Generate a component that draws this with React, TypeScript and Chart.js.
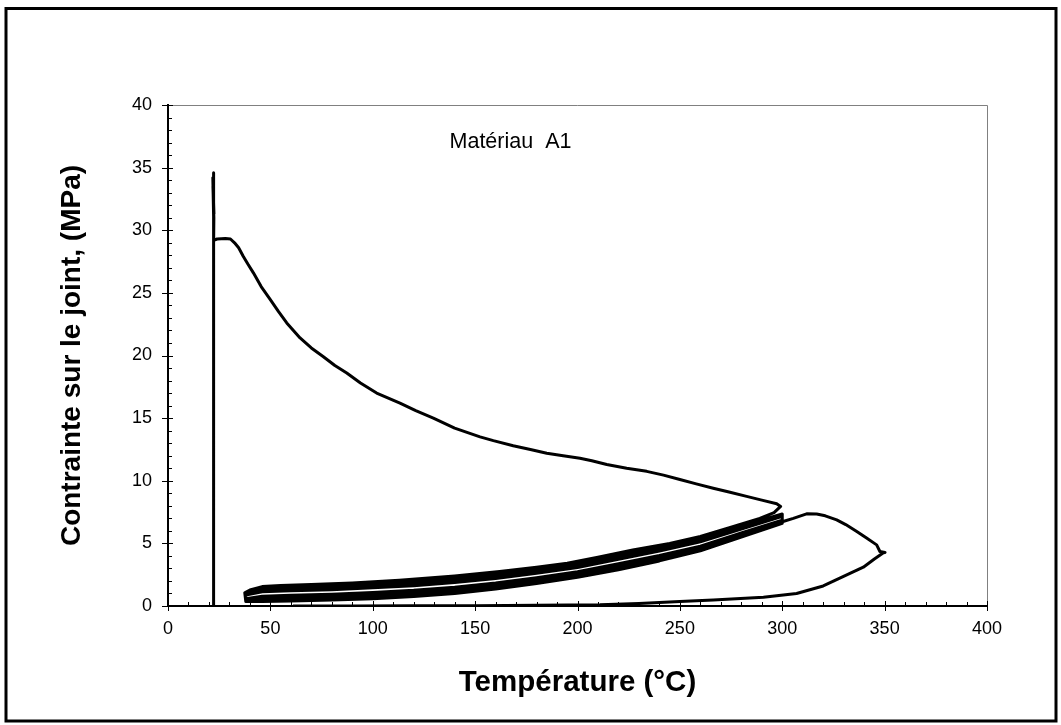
import React, { useEffect, useRef } from "react";
import { Chart, registerables } from "chart.js";

Chart.register(...registerables);

const FONT = "'Liberation Sans', Arial, sans-serif";

// Axis ranges / ticks
const xMin = 0, xMax = 400, xStep = 50, xMinorStep = 10;
const yMin = 0, yMax = 40, yStep = 5, yMinorStep = 1;
const xTitle = "Température (°C)";
const yTitle = "Contrainte sur le joint, (MPa)";
const noteText = "Matériau  A1";
const noteAt = { x: 137.5, y: 36.6 };

// Initial loading at room temperature and first heating to 300 °C
const initialT = [22.1, 22.1, 22.45, 21.9, 22.45, 21.95, 22.4, 22.3, 24.0, 28.0, 30.5, 32.5, 34.5, 36.8, 39.0, 41.7, 45.5, 49.8, 54.0, 58.0, 64.5, 70.0, 75.9, 81.5, 87.3, 94.0, 101.9, 113.3, 121.0, 129.6, 140.0, 152.4, 158.9, 168.6, 177.0, 185.0, 193.0, 201.2, 207.0, 214.3, 224.0, 233.8, 242.0, 250.0, 258.0, 266.3, 274.0, 282.6, 290.0, 297.3, 299.2];
const initialS = [0, 34.6, 31.1, 34.2, 31.3, 33.5, 31.0, 29.2, 29.3, 29.35, 29.3, 29.0, 28.6, 27.9, 27.3, 26.6, 25.5, 24.5, 23.5, 22.6, 21.4, 20.6, 19.9, 19.2, 18.6, 17.8, 17.0, 16.2, 15.6, 15.0, 14.2, 13.5, 13.2, 12.8, 12.5, 12.2, 12.0, 11.8, 11.6, 11.3, 11.0, 10.75, 10.45, 10.1, 9.75, 9.4, 9.1, 8.75, 8.45, 8.16, 7.95];

// First cooling from 300 °C
const firstCoolT = [296, 289, 275, 260, 245, 227, 210, 195, 180, 162, 140, 113, 90, 70, 55, 46, 40, 37.5];
const firstCoolS = [7.45, 7.0, 6.3, 5.55, 5.0, 4.48, 3.9, 3.41, 3.1, 2.75, 2.4, 2.06, 1.84, 1.72, 1.63, 1.55, 1.28, 1.05];

// Thermal cycles (cooling: 300 -> 38 °C, heating: 38 -> 300 °C)
const coolT = [300, 280, 260, 240, 220, 200, 180, 160, 140, 120, 100, 80, 60, 46, 38];
const cool1 = [7.35, 6.40, 5.40, 4.70, 4.10, 3.40, 2.95, 2.57, 2.25, 2.00, 1.82, 1.65, 1.55, 1.45, 1.05];
const cool2 = [7.29, 6.32, 5.31, 4.59, 3.98, 3.29, 2.84, 2.45, 2.12, 1.87, 1.70, 1.53, 1.44, 1.34, 0.99];
const cool3 = [7.22, 6.24, 5.21, 4.49, 3.86, 3.19, 2.72, 2.33, 2.00, 1.75, 1.57, 1.42, 1.32, 1.24, 0.94];
const cool4 = [7.16, 6.15, 5.12, 4.38, 3.74, 3.08, 2.61, 2.20, 1.87, 1.62, 1.45, 1.30, 1.21, 1.13, 0.88];
const cool5 = [7.10, 6.07, 5.02, 4.27, 3.62, 2.97, 2.49, 2.08, 1.75, 1.50, 1.32, 1.19, 1.09, 1.02, 0.82];

const heatT = [38, 46, 60, 80, 100, 120, 140, 160, 180, 200, 220, 240, 260, 280, 300];
const heat1 = [0.35, 0.35, 0.40, 0.48, 0.58, 0.75, 1.00, 1.35, 1.80, 2.30, 2.90, 3.60, 4.40, 5.50, 6.60];
const heat2 = [0.41, 0.46, 0.51, 0.60, 0.71, 0.88, 1.13, 1.47, 1.91, 2.41, 3.02, 3.71, 4.50, 5.58, 6.66];
const heat3 = [0.47, 0.57, 0.63, 0.71, 0.83, 1.00, 1.25, 1.60, 2.03, 2.52, 3.14, 3.82, 4.59, 5.67, 6.73];
const heat4 = [0.52, 0.67, 0.74, 0.83, 0.96, 1.13, 1.38, 1.72, 2.14, 2.62, 3.26, 3.92, 4.69, 5.75, 6.79];
const heat5 = [0.58, 0.78, 0.86, 0.94, 1.08, 1.25, 1.50, 1.84, 2.26, 2.73, 3.38, 4.03, 4.78, 5.83, 6.86];

// Final heating to 350 °C and cooling
const finalT = [300.4, 305.4, 309, 311.9, 316.8, 321, 326.6, 331, 336.4, 341, 346.1, 347.7, 350.2, 349.4, 345, 339.6, 331.5, 320, 307, 290.8, 266.3, 250, 230, 211, 180, 150, 120, 90, 61];
const finalS = [6.75, 7.0, 7.2, 7.36, 7.34, 7.2, 6.88, 6.5, 5.95, 5.45, 4.88, 4.35, 4.27, 4.25, 3.75, 3.1, 2.48, 1.6, 1.0, 0.7, 0.48, 0.35, 0.2, 0.1, 0.05, 0.02, 0.01, 0, 0];

const pts = (t: number[], s: number[]) => t.map((v, i) => ({ x: v, y: s[i] }));

function buildPath() {
  const coolS = [cool1, cool2, cool3, cool4, cool5];
  const heatS = [heat1, heat2, heat3, heat4, heat5];
  let p = [...pts(initialT, initialS), ...pts(firstCoolT, firstCoolS)];
  for (let k = 0; k < heatS.length; k++) {
    p = p.concat(pts(heatT, heatS[k]));
    if (k < coolS.length - 1) p = p.concat(pts(coolT, coolS[k]));
  }
  p = p.concat(pts(finalT, finalS));
  return p;
}

const decor = {
  id: "decor",
  beforeDraw(chart: any) {
    const { ctx, width, height } = chart;
    ctx.save();
    ctx.fillStyle = "#fff";
    ctx.fillRect(0, 0, width, height);
    ctx.restore();
  },
  afterDraw(chart: any) {
    const { ctx, chartArea: a, scales } = chart;
    const x = scales.x, y = scales.y;
    ctx.save();
    // plot-area border (top/right)
    ctx.strokeStyle = "#808080";
    ctx.lineWidth = 1;
    ctx.beginPath();
    ctx.moveTo(a.left, a.top + 0.5);
    ctx.lineTo(a.right + 0.5, a.top + 0.5);
    ctx.lineTo(a.right + 0.5, a.bottom);
    ctx.stroke();
    // ticks
    ctx.strokeStyle = "#000";
    ctx.lineWidth = 1;
    ctx.beginPath();
    for (let v = yMin; v <= yMax + 1e-9; v += yMinorStep) {
      const py = Math.round(y.getPixelForValue(v)) + 0.5;
      const major = Math.abs(v / yStep - Math.round(v / yStep)) < 1e-6;
      ctx.moveTo(a.left - (major ? 6 : 0), py);
      ctx.lineTo(a.left + (major ? 5 : 4), py);
    }
    for (let v = xMin; v <= xMax + 1e-9; v += xMinorStep) {
      const px = Math.round(x.getPixelForValue(v)) + 0.5;
      const major = Math.abs(v / xStep - Math.round(v / xStep)) < 1e-6;
      ctx.moveTo(px, a.bottom + (major ? 5 : 0));
      ctx.lineTo(px, a.bottom - (major ? 5 : 4));
    }
    ctx.stroke();
    // annotation
    ctx.fillStyle = "#000";
    ctx.font = `21.5px ${FONT}`;
    ctx.textAlign = "left";
    ctx.textBaseline = "alphabetic";
    ctx.fillText(noteText, x.getPixelForValue(noteAt.x), y.getPixelForValue(noteAt.y));
    // outer frame
    ctx.lineWidth = 3;
    ctx.strokeStyle = "#000";
    ctx.strokeRect(6, 8.5, 1050, 712.5);
    ctx.restore();
  },
};

export default function App() {
  const ref = useRef<HTMLCanvasElement | null>(null);
  useEffect(() => {
    if (!ref.current) return;
    const chart = new Chart(ref.current, {
      type: "scatter",
      data: {
        datasets: [
          {
            data: buildPath(),
            showLine: true,
            borderColor: "#000",
            borderWidth: 3,
            pointRadius: 0,
            tension: 0,
            fill: false,
            borderJoinStyle: "round",
          },
        ],
      },
      options: {
        animation: false,
        responsive: false,
        devicePixelRatio: 1,
        layout: { padding: { top: 105, right: 74, left: 0, bottom: 0 } },
        plugins: { legend: { display: false }, tooltip: { enabled: false } },
        scales: {
          x: {
            type: "linear",
            min: xMin,
            max: xMax,
            grid: { display: false, drawTicks: false },
            border: { display: true, color: "#000", width: 2 },
            ticks: { stepSize: xStep, color: "#000", font: { family: FONT, size: 18 }, padding: 12, maxRotation: 0 },
            title: {
              display: true,
              text: xTitle,
              color: "#000",
              font: { family: FONT, size: 29.5, weight: "bold" },
              padding: { top: 0, bottom: 24 },
            },
            afterFit: (s: any) => { s.height = 119; },
          },
          y: {
            type: "linear",
            min: yMin,
            max: yMax,
            grid: { display: false, drawTicks: false },
            border: { display: true, color: "#000", width: 2 },
            ticks: { stepSize: yStep, color: "#000", font: { family: FONT, size: 18 }, padding: 16 },
            title: {
              display: true,
              text: yTitle,
              color: "#000",
              font: { family: FONT, size: 28, weight: "bold" },
              padding: { top: 55, bottom: 0 },
            },
            afterFit: (s: any) => { s.width = 168; },
          },
        },
      } as any,
      plugins: [decor],
    });
    return () => chart.destroy();
  }, []);
  return (
    <div style={{ position: "absolute", left: 0, top: 0, width: 1061, height: 725 }}>
      <canvas ref={ref} width={1061} height={725} style={{ display: "block" }} />
    </div>
  );
}
